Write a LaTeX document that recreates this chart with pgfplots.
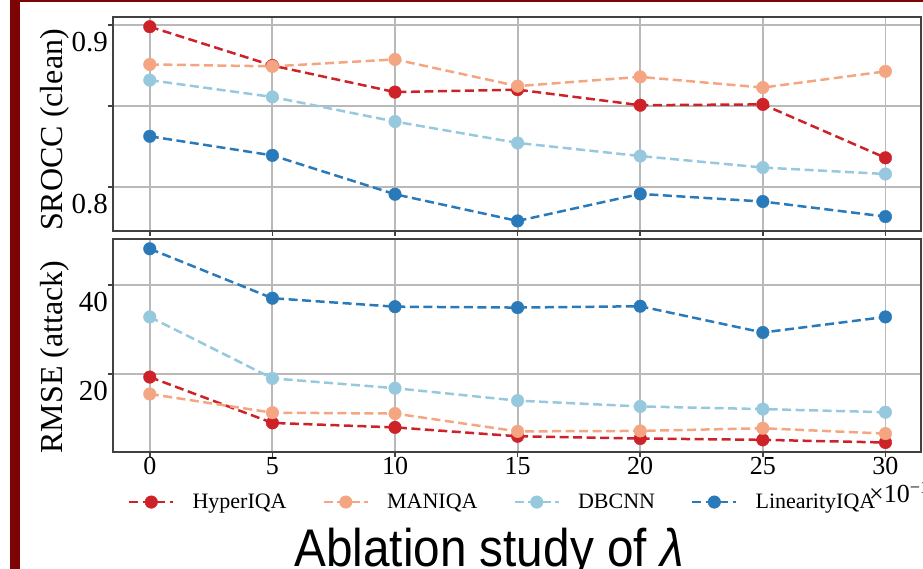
\documentclass[border=0pt]{standalone}
\usepackage{fontspec}
\setmainfont{Liberation Serif}
\newfontfamily\titlefont{Liberation Sans}
\usepackage{graphicx}
\usepackage{pgfplots}
\pgfplotsset{compat=1.18}

\definecolor{cHyper}{RGB}{205,35,40}
\definecolor{cMani}{RGB}{244,165,130}
\definecolor{cDb}{RGB}{150,200,222}
\definecolor{cLin}{RGB}{42,122,185}
\definecolor{frameRed}{RGB}{125,4,4}
\definecolor{gridGray}{RGB}{185,185,185}
\definecolor{spine}{RGB}{65,65,65}

\pgfplotsset{
  ablation/.style={
    scale only axis, width=808pt, height=214pt,
    xmin=-1.5, xmax=31.45,
    xtick={0,5,...,30},
    grid=major,
    major grid style={draw=gridGray, line width=1.8pt},
    axis line style={draw=spine, line width=1.8pt},
    tick style={draw=spine, line width=1.5pt},
    major tick length=5pt,
    tick align=outside, tick pos=left,
    /pgf/number format/assume math mode=true,
    yticklabel style={font=\fontsize{29}{29}\selectfont, inner sep=0pt, yshift=-17pt},
    xticklabel style={font=\fontsize{26}{26}\selectfont, inner sep=0pt},
    ylabel style={font=\fontsize{32}{32}\selectfont, anchor=base},
    every axis plot/.append style={line width=2.5pt, dash pattern=on 9pt off 4.5pt,
      mark=*, mark size=6.3pt, mark options={solid, line width=0.4pt}},
  }
}

\begin{document}
\begin{tikzpicture}
\useasboundingbox (0pt,0pt) rectangle (923pt,569pt);
\clip (0pt,0pt) rectangle (923pt,569pt);
\fill[frameRed] (10pt,0pt) rectangle (20pt,569pt);
\fill[frameRed] (10pt,567pt) rectangle (923pt,569pt);

% SROCC on clean images
\begin{axis}[ablation,
  at={(113pt,338pt)}, anchor=south west,
  ymin=0.7728, ymax=0.905,
  ytick={0.8,0.85,0.9}, yticklabels={0.8,,0.9},
  xticklabels={},
  ylabel={SROCC (clean)},
  ylabel style={at={(axis description cs:-0.0619,0.472)}},
]
\addplot[cHyper] coordinates {(0,0.899) (5,0.875) (10,0.8586) (15,0.8601) (20,0.8505) (25,0.851) (30,0.818)};
\addplot[cMani] coordinates {(0,0.8757) (5,0.8745) (10,0.8788) (15,0.8623) (20,0.868) (25,0.8614) (30,0.8714)};
\addplot[cDb] coordinates {(0,0.866) (5,0.8556) (10,0.8404) (15,0.8272) (20,0.8191) (25,0.812) (30,0.808)};
\addplot[cLin] coordinates {(0,0.8313) (5,0.8195) (10,0.7955) (15,0.779) (20,0.7957) (25,0.791) (30,0.7817)};
\end{axis}

% RMSE under attack
\begin{axis}[ablation,
  at={(113pt,117pt)}, anchor=south west,
  height=213pt,
  ymin=2.47, ymax=50.3,
  ytick={20,40},
  ylabel={RMSE (attack)},
  ylabel style={at={(axis description cs:-0.0619,0.446)}},
  legend columns=4,
  legend style={at={(axis description cs:0.0186,-0.235)}, anchor=west,
    draw=none, fill=none, inner sep=0pt, outer sep=0pt,
    font=\fontsize{22}{22}\selectfont, nodes={inner sep=0pt},
    /tikz/every odd column/.append style={column sep=18pt},
    /tikz/every even column/.append style={column sep=36pt}},
  legend image code/.code={\draw[mark repeat=2, mark phase=2, #1]
    plot coordinates {(0pt,0pt) (22pt,0pt) (44pt,0pt)};},
]
\addplot[cHyper] coordinates {(0,19.3) (5,9.0) (10,8.0) (15,6.0) (20,5.5) (25,5.2) (30,4.6)};
\addplot[cMani] coordinates {(0,15.5) (5,11.3) (10,11.1) (15,7.1) (20,7.2) (25,7.8) (30,6.6)};
\addplot[cDb] coordinates {(0,32.8) (5,19.0) (10,16.8) (15,14.0) (20,12.7) (25,12.1) (30,11.4)};
\addplot[cLin] coordinates {(0,48.1) (5,37.0) (10,35.1) (15,34.9) (20,35.2) (25,29.3) (30,32.8)};
\legend{HyperIQA,MANIQA,DBCNN,LinearityIQA}
\end{axis}

\node[anchor=west, inner sep=0pt, font=\fontsize{26}{26}\selectfont] at (869pt,77pt) {×10\textsuperscript{−1}};
\node[anchor=base, inner sep=0pt, font=\titlefont\fontsize{53}{53}\selectfont] at (489pt,2pt)
  {\scalebox{0.9}[1]{Ablation study of {\itshape λ}}};
\end{tikzpicture}
\end{document}
